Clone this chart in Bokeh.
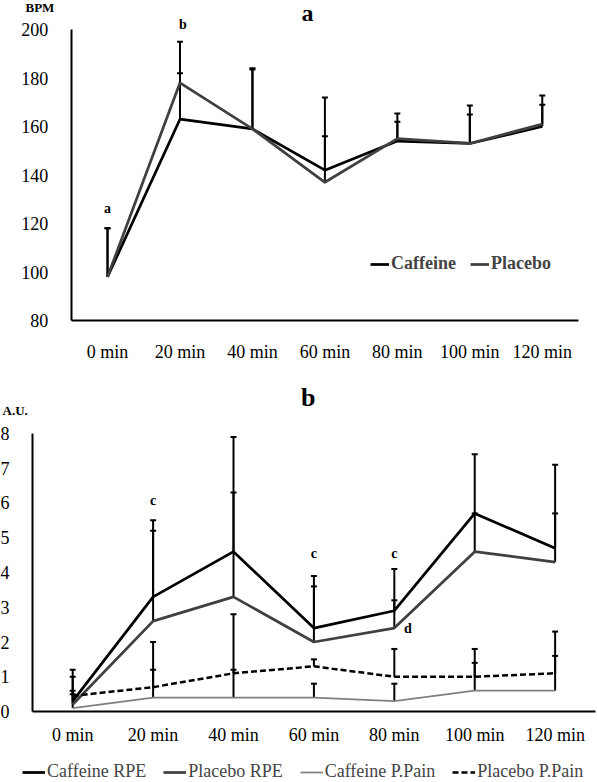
import numpy as np
from bokeh.plotting import figure
from bokeh.models import (Range1d, FixedTicker, Whisker, TeeHead, ColumnDataSource,
                          Legend, LegendItem, Label)
from bokeh.layouts import column
from bokeh.embed import file_html
from bokeh.resources import INLINE

# ---------------- data ----------------
categories = ["0 min", "20 min", "40 min", "60 min", "80 min", "100 min", "120 min"]

# panel a: heart rate (BPM)
hr_caffeine = [98, 163, 159, 142, 154, 153, 160]
hr_placebo = [98, 178, 159, 137, 155, 153, 161]
hr_caffeine_top = [118, 182, 184, 156, 162, 165, 169]
hr_placebo_top = [118, 195, 183.5, 172, 165.4, 168.7, 172.8]
hr_ticks = [80, 100, 120, 140, 160, 180, 200]

# panel b: RPE and perceived pain (A.U.)
rpe_caffeine = [0.3, 3.3, 4.6, 2.4, 2.9, 5.7, 4.7]
rpe_placebo = [0.2, 2.6, 3.3, 2.0, 2.4, 4.6, 4.3]
pain_caffeine = [0.1, 0.4, 0.4, 0.4, 0.3, 0.6, 0.6]
pain_placebo = [0.45, 0.7, 1.1, 1.3, 1.0, 1.0, 1.1]
rpe_caffeine_top = [1.2, 5.5, 7.9, 3.9, 4.1, 7.4, 7.1]
rpe_placebo_top = [1.0, 5.2, 6.3, 3.6, 3.2, 5.7, 5.7]
pain_caffeine_top = [0.6, 1.2, 1.2, 0.8, 0.8, 1.4, 1.6]
pain_placebo_top = [0.5, 2.0, 2.8, 1.5, 1.8, 1.8, 2.3]
au_ticks = [0, 1, 2, 3, 4, 5, 6, 7, 8]

FONT = "Liberation Serif"
n = len(categories)
pos = list(np.arange(n) + 0.5)
overrides = {p: c for p, c in zip(pos, categories)}


def style(p, yticks):
    p.xgrid.visible = False
    p.ygrid.visible = False
    p.outline_line_color = None
    p.background_fill_color = "white"
    p.border_fill_color = "white"
    p.xaxis.ticker = FixedTicker(ticks=pos)
    p.xaxis.major_label_overrides = overrides
    p.xaxis.bounds = (0, n)
    p.xaxis.fixed_location = yticks[0]
    p.yaxis.ticker = FixedTicker(ticks=yticks)
    p.yaxis.bounds = (yticks[0], yticks[-1])
    p.yaxis.fixed_location = 0
    for ax in (p.xaxis, p.yaxis):
        ax.axis_line_color = "black"
        ax.axis_line_width = 2
        ax.major_tick_line_color = None
        ax.minor_tick_line_color = None
        ax.major_label_text_font = FONT
        ax.major_label_text_color = "black"
    p.xaxis.major_label_text_font_size = "18px"
    p.yaxis.major_label_text_font_size = "18px"
    p.yaxis.major_label_standoff = 17


def whisk(p, mean, top):
    src = ColumnDataSource(dict(x=pos, mean=mean, top=top))
    w = Whisker(source=src, base="x", lower="mean", upper="top", dimension="height",
                line_color="black", line_width=2,
                upper_head=TeeHead(size=6, line_width=2, line_color="black"),
                lower_head=None)
    p.add_layout(w)


def lab(p, x, y, text, size, align="center"):
    p.add_layout(Label(x=x, y=y, text=text, text_font=FONT, text_font_style="bold",
                       text_font_size=size, text_align=align, text_baseline="middle",
                       text_color="black"))


# ---------------- panel a (frame spans the whole figure) ----------------
pa = figure(width=597, height=380, x_range=Range1d(-0.977, 7.262),
            y_range=Range1d(55.26, 211.96),
            output_backend="svg", toolbar_location=None,
            min_border_left=0, min_border_right=0, min_border_top=0, min_border_bottom=0)
style(pa, hr_ticks)
pa.xaxis.major_label_standoff = 15

whisk(pa, hr_caffeine, hr_caffeine_top)
whisk(pa, hr_placebo, hr_placebo_top)
ra1 = pa.line(pos, hr_caffeine, line_color="black", line_width=2.75)
ra2 = pa.line(pos, hr_placebo, line_color="#404040", line_width=2.75)

lega = Legend(items=[LegendItem(label="Caffeine", renderers=[ra1]),
                     LegendItem(label="Placebo", renderers=[ra2])],
              location=(370, 106), orientation="horizontal",
              background_fill_alpha=0, border_line_color=None,
              label_text_font=FONT, label_text_font_style="bold", label_text_font_size="18px",
              glyph_width=19, glyph_height=18, label_standoff=2, spacing=14,
              padding=0, margin=0)
pa.add_layout(lega)

lab(pa, 3.26, 206.8, "a", "24px")
lab(pa, -0.632, 209.0, "BPM", "13px", align="left")
lab(pa, pos[0], 126.2, "a", "14px")
lab(pa, pos[1] + 0.04, 202, "b", "14px")

# ---------------- panel b (frame spans the whole figure, legend inside) ----------------
pb = figure(width=597, height=402, x_range=Range1d(-0.398, 7.027),
            y_range=Range1d(-2.043, 9.525),
            output_backend="svg", toolbar_location=None,
            min_border_left=0, min_border_right=0, min_border_top=0, min_border_bottom=0)
style(pb, au_ticks)
pb.xaxis.major_label_standoff = 7

whisk(pb, rpe_caffeine, rpe_caffeine_top)
whisk(pb, rpe_placebo, rpe_placebo_top)
whisk(pb, pain_caffeine, pain_caffeine_top)
whisk(pb, pain_placebo, pain_placebo_top)
rb1 = pb.line(pos, rpe_caffeine, line_color="black", line_width=2.75)
rb2 = pb.line(pos, rpe_placebo, line_color="#404040", line_width=2.75)
rb3 = pb.line(pos, pain_caffeine, line_color="#808080", line_width=1.75)
rb4 = pb.line(pos, pain_placebo, line_color="black", line_width=2.5, line_dash="6 3")

legb = Legend(items=[LegendItem(label="Caffeine RPE", renderers=[rb1]),
                     LegendItem(label="Placebo RPE", renderers=[rb2]),
                     LegendItem(label="Caffeine P.Pain", renderers=[rb3]),
                     LegendItem(label="Placebo P.Pain", renderers=[rb4])],
              location=(22, 0), orientation="horizontal",
              background_fill_alpha=0, border_line_color=None,
              label_text_font=FONT, label_text_font_size="18px",
              glyph_width=23, glyph_height=18, label_standoff=2, spacing=17,
              padding=2, margin=0)
pb.add_layout(legb)

lab(pb, 3.43, 9.04, "b", "26px")
lab(pb, -0.373, 8.66, "A.U.", "13px", align="left")
lab(pb, pos[1], 6.07, "c", "14px")
lab(pb, pos[3], 4.55, "c", "14px")
lab(pb, pos[4], 4.55, "c", "14px")
lab(pb, pos[4] + 0.17, 2.39, "d", "14px")

layout = column(pa, pb, spacing=0)
open("out.html", "w").write(file_html(layout, INLINE))
